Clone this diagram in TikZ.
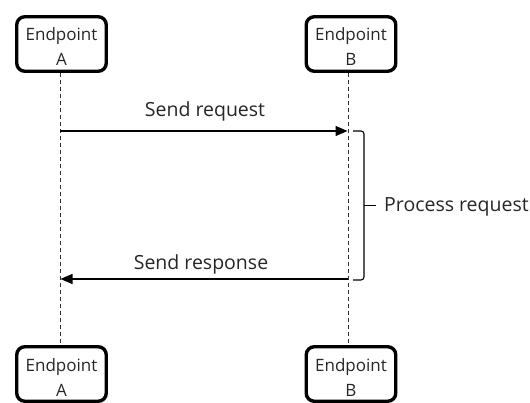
\documentclass[tikz,border=0pt]{standalone}
\usepackage{fontspec}
\setmainfont{Open Sans}
\usetikzlibrary{arrows.meta}
\begin{document}
\begin{tikzpicture}[x=1pt,y=-1pt,
  endpoint/.style={draw=black, line width=3.4pt, rounded corners=8pt,
    minimum width=89.5pt, minimum height=54.5pt, inner sep=0pt, align=center,
    font=\fontsize{17}{25}\selectfont, text=black!85},
  lifeline/.style={draw=black!80, line width=0.9pt, dash pattern=on 4pt off 3pt},
  msg/.style={draw=black, line width=1.4pt, -{Triangle[length=12pt,width=10pt]}},
  msglabel/.style={font=\fontsize{19.5}{23}\selectfont, text=black!85, inner sep=0pt},
  bracket/.style={draw=black, line width=1.1pt, rounded corners=3pt}]
  \useasboundingbox (0,0) rectangle (530,403);

  % participants, top and bottom (the strut lowers the two text lines a little)
  \node[endpoint] (at) at (61.5,44) {\rule{0pt}{19pt}Endpoint\\A};
  \node[endpoint] (bt) at (351,44) {\rule{0pt}{19pt}Endpoint\\B};
  \node[endpoint] (ab) at (61.5,374) {\rule{0pt}{19pt}Endpoint\\A};
  \node[endpoint] (bb) at (351,374) {\rule{0pt}{19pt}Endpoint\\B};

  % lifelines
  \draw[lifeline] ([xshift=-1.5pt]at.south) -- ([xshift=-1.5pt]ab.north);
  \draw[lifeline] ([xshift=-3pt]bt.south) -- ([xshift=-3pt]bb.north);

  % message end points on the lifelines
  \coordinate (reqA) at (60,131);
  \coordinate (reqB) at (347.5,131);
  \coordinate (resB) at (348,279);
  \coordinate (resA) at (60.5,279);

  % messages
  \draw[msg] (reqA) -- (reqB);
  \node[msglabel, anchor=base] (reqlabel) at (205,117) {Send request};
  \draw[msg] (resB) -- (resA);
  \node[msglabel, anchor=base] (reslabel) at (201,270) {Send response};

  % processing bracket
  \coordinate (brTop) at (353,131);
  \coordinate (brBot) at (353,280);
  \coordinate (brMid) at (364,205.5);
  \coordinate (brTip) at (376,205.5);
  \draw[bracket] (brTop) -- (364,131) -- (364,280) -- (brBot);
  \draw[bracket] (brMid) -- (brTip);
  \node[msglabel, anchor=base west] (proclabel) at (384,211.5) {Process request};
\end{tikzpicture}
\end{document}
